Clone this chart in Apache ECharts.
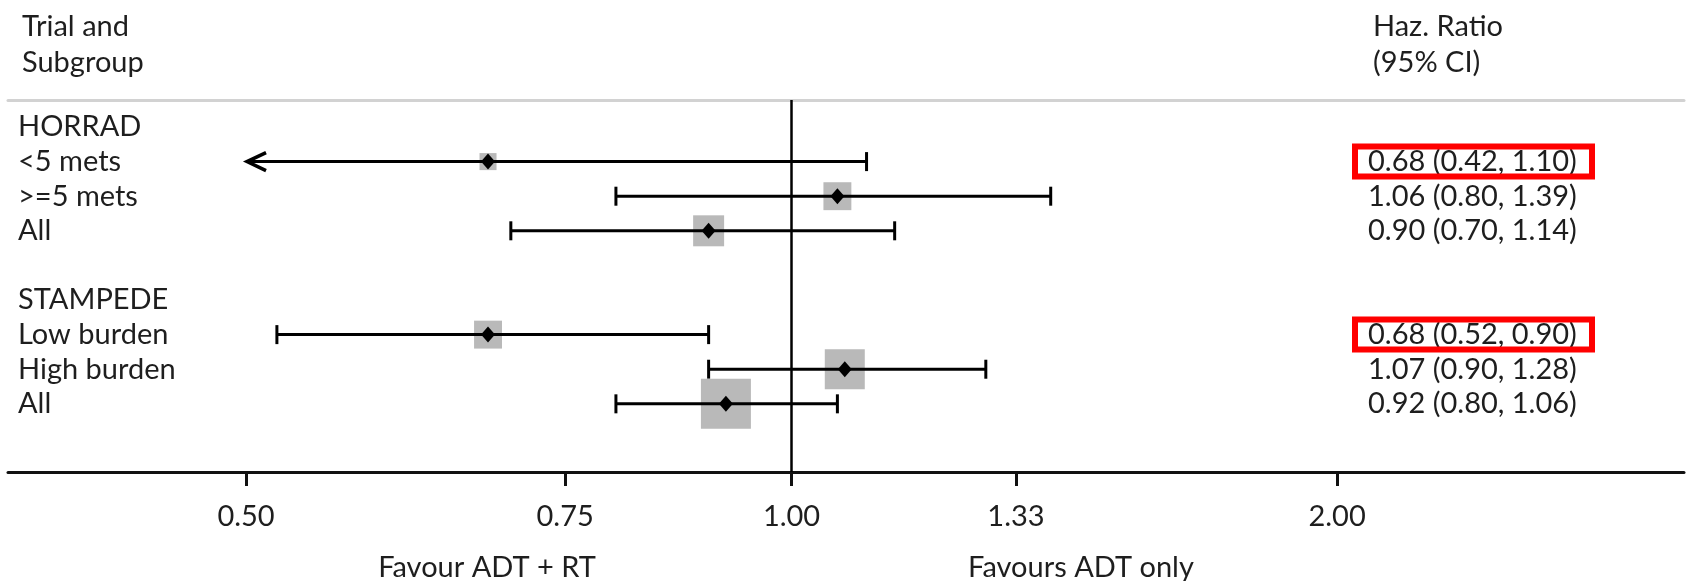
<!DOCTYPE html>
<html>
<head>
<meta charset="utf-8">
<script src="https://cdn.jsdelivr.net/npm/echarts@6/dist/echarts.min.js"></script>
<style>
html, body { margin: 0; padding: 0; background: #ffffff; }
#chart { width: 1686px; height: 581px; }
</style>
</head>
<body>
<div id="chart"></div>
<script>
// ---- data ----
const rowLabels = ['HORRAD', '<5 mets', '>=5 mets', 'All', '', 'STAMPEDE', 'Low burden', 'High burden', 'All'];
const hr      = [null, 0.68, 1.06, 0.90, null, null, 0.68, 1.07, 0.92];
const ciLow   = [null, 0.42, 0.80, 0.70, null, null, 0.52, 0.90, 0.80];
const ciHigh  = [null, 1.10, 1.39, 1.14, null, null, 0.90, 1.28, 1.06];
const weights = [null, 2.9, 7.8, 9.6, null, null, 7.8, 16.0, 25.0];
const highlighted = [false, true, false, false, false, false, true, false, false];
const tickValues = [0.50, 0.75, 1.00, 1.33, 2.00];
const leftHeader = 'Trial and\nSubgroup';
const rightHeader = 'Haz. Ratio\n(95% CI)';
const favourLeft = 'Favour ADT + RT';
const favourRight = 'Favours ADT only';

// ---- style ----
const FONT = 'Lato';
const FS = 29;
const TXT = '#1e1e1e';

const rowIdx = rowLabels.map((_, i) => i);
const logTicks = tickValues.map(v => Math.log(v));

const chart = echarts.init(document.getElementById('chart'), null, { renderer: 'canvas' });

function renderItem(params, api) {
  const i = api.value(0);
  const cs = params.coordSys;
  const children = [];
  const h = hr[i];
  if (h == null) return { type: 'group', children: children };
  const y = api.coord([0, i])[1];
  const xH = api.coord([Math.log(h), i])[0];
  const clipLo = ciLow[i] < tickValues[0];
  const xL = api.coord([Math.log(clipLo ? tickValues[0] : ciLow[i]), i])[0];
  const xU = api.coord([Math.log(ciHigh[i]), i])[0];
  const s = 10 * Math.sqrt(weights[i]);
  const stroke = { stroke: '#000', lineWidth: 3 };
  children.push({ type: 'rect', shape: { x: xH - s / 2, y: y - s / 2, width: s, height: s }, style: { fill: '#b9b9b9' } });
  children.push({ type: 'line', shape: { x1: xL, y1: y, x2: xU, y2: y }, style: stroke });
  children.push({ type: 'line', shape: { x1: xU, y1: y - 9.5, x2: xU, y2: y + 9.5 }, style: stroke });
  if (clipLo) {
    children.push({ type: 'polyline', shape: { points: [[xL + 20, y - 9], [xL + 1, y], [xL + 20, y + 9]] }, style: { stroke: '#000', lineWidth: 3.5, fill: null } });
  } else {
    children.push({ type: 'line', shape: { x1: xL, y1: y - 9.5, x2: xL, y2: y + 9.5 }, style: stroke });
  }
  children.push({ type: 'polygon', shape: { points: [[xH - 7, y], [xH, y - 8], [xH + 7, y], [xH, y + 8]] }, style: { fill: '#000' } });
  const tx = cs.x + cs.width - 316;
  const label = h.toFixed(2) + ' (' + ciLow[i].toFixed(2) + ', ' + ciHigh[i].toFixed(2) + ')';
  children.push({ type: 'text', x: tx, y: y, style: { text: label, font: FS + 'px ' + FONT, fill: TXT, textAlign: 'left', textVerticalAlign: 'middle' } });
  if (highlighted[i]) {
    children.push({ type: 'rect', shape: { x: tx - 13, y: y - 15, width: 237, height: 30 }, style: { stroke: '#ff0000', lineWidth: 6, fill: null } });
  }
  return { type: 'group', children: children };
}

const option = {
  backgroundColor: '#ffffff',
  animation: false,
  title: [
    { text: leftHeader, left: 17, top: 4, textStyle: { fontFamily: FONT, fontSize: FS, fontWeight: 'normal', color: TXT, lineHeight: 36 } },
    { text: rightHeader, left: 1368, top: 4, textStyle: { fontFamily: FONT, fontSize: FS, fontWeight: 'normal', color: TXT, lineHeight: 36 } }
  ],
  grid: { left: 8, right: 2, top: 100, bottom: 109, containLabel: false },
  xAxis: [
    {
      type: 'value', position: 'bottom',
      min: -0.9956, max: 1.134,
      axisLine: { show: true, onZero: false, lineStyle: { color: '#111', width: 3 } },
      axisTick: { show: true, customValues: logTicks, length: 14, lineStyle: { color: '#111', width: 3 } },
      axisLabel: { show: true, customValues: logTicks, margin: 30, fontFamily: FONT, fontSize: FS, color: TXT,
        formatter: v => Math.exp(v).toFixed(2) },
      splitLine: { show: false }
    },
    {
      type: 'value', position: 'top',
      min: -0.9956, max: 1.134,
      axisLine: { show: true, onZero: false, lineStyle: { color: '#d2d2d2', width: 3 } },
      axisTick: { show: false }, axisLabel: { show: false }, splitLine: { show: false }
    }
  ],
  yAxis: {
    type: 'value', inverse: true, min: -0.78, max: 9.97,
    axisLine: { show: false }, axisTick: { show: false }, splitLine: { show: false },
    axisLabel: { show: true, inside: true, margin: 10, customValues: rowIdx, fontFamily: FONT, fontSize: FS, color: TXT,
      formatter: v => rowLabels[Math.round(v)] }
  },
  graphic: [
    { type: 'text', x: 487, y: 568, style: { text: favourLeft, font: FS + 'px ' + FONT, fill: TXT, textAlign: 'center', textVerticalAlign: 'middle' } },
    { type: 'text', x: 1081, y: 568, style: { text: favourRight, font: FS + 'px ' + FONT, fill: TXT, textAlign: 'center', textVerticalAlign: 'middle' } }
  ],
  series: [
    {
      type: 'custom',
      xAxisIndex: 0,
      renderItem: renderItem,
      data: rowIdx.map(i => [i]),
      encode: { y: 0 },
      clip: false,
      silent: true,
      markLine: {
        silent: true, symbol: 'none', label: { show: false },
        lineStyle: { color: '#000', width: 2.5, type: 'solid' },
        data: [{ xAxis: Math.log(1) }]
      }
    }
  ]
};
chart.setOption(option);
</script>
</body>
</html>
